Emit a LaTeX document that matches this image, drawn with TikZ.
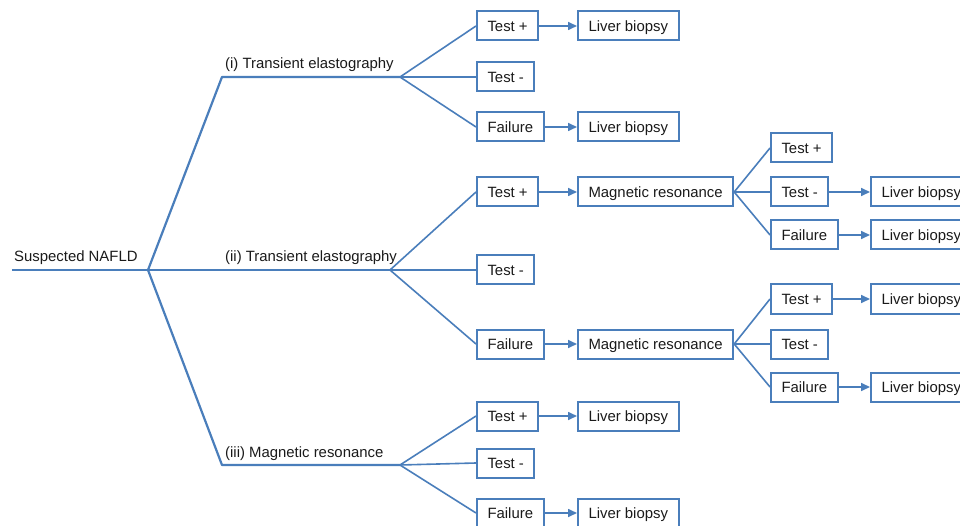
\documentclass[tikz,border=0pt]{standalone}
\usepackage{fontspec}
\setmainfont{Liberation Sans}
\usetikzlibrary{arrows.meta}
\definecolor{ln}{HTML}{4A7EBB}
\definecolor{tx}{HTML}{1A1A1A}
\begin{document}
\begin{tikzpicture}[x=1pt,y=-1pt,
  box/.style={draw=ln,line width=2pt,inner xsep=10.5pt,inner ysep=0pt,minimum height=29pt,
    text height=10.7pt,text depth=0pt,
    font=\fontsize{14.9}{16}\selectfont,text=tx,anchor=west},
  lbl/.style={font=\fontsize{14.9}{16}\selectfont,text=tx,anchor=base west,inner sep=0pt},
  trunk/.style={draw=ln,line width=2.2pt,line join=round},
  fan/.style={draw=ln,line width=1.6pt},
  arr/.style={draw=ln,line width=1.6pt,-{Triangle[length=9pt,width=8pt]}}]
\clip (0,0) rectangle (960,526);
% trunk coordinates
\coordinate (root) at (12,270);
\coordinate (j0) at (148,270);
\coordinate (k1) at (222,77);
\coordinate (f1) at (400,77);
\coordinate (f2) at (390,270);
\coordinate (k3) at (222,465);
\coordinate (f3) at (400,465);
% labels
\node[lbl] (t0) at (14,262) {Suspected NAFLD};
\node[lbl] (t1) at (225,69) {(i) Transient elastography};
\node[lbl] (t2) at (225,262) {(ii) Transient elastography};
\node[lbl] (t3) at (225,457) {(iii) Magnetic resonance};
% branch (i)
\node[box] (b1p) at (476,26) {Test +};
\node[box] (b1m) at (476,77) {Test -};
\node[box] (b1f) at (476,127) {Failure};
\node[box] (l1p) at (577,26) {Liver biopsy};
\node[box] (l1f) at (577,127) {Liver biopsy};
% branch (ii)
\node[box] (b2p) at (476,192) {Test +};
\node[box] (b2m) at (476,270) {Test -};
\node[box] (b2f) at (476,344) {Failure};
\node[box] (m2p) at (577,192) {Magnetic resonance};
\node[box] (m2f) at (577,344) {Magnetic resonance};
\node[box] (c2p) at (770,148) {Test +};
\node[box] (c2m) at (770,192) {Test -};
\node[box] (c2f) at (770,235) {Failure};
\node[box] (l2m) at (870,192) {Liver biopsy};
\node[box] (l2f) at (870,235) {Liver biopsy};
\node[box] (d2p) at (770,299) {Test +};
\node[box] (d2m) at (770,344) {Test -};
\node[box] (d2f) at (770,387) {Failure};
\node[box] (l2dp) at (870,299) {Liver biopsy};
\node[box] (l2df) at (870,387) {Liver biopsy};
% branch (iii)
\node[box] (b3p) at (476,416) {Test +};
\node[box] (b3m) at (476,463) {Test -};
\node[box] (b3f) at (476,513) {Failure};
\node[box] (l3p) at (577,416) {Liver biopsy};
\node[box] (l3f) at (577,513) {Liver biopsy};
% trunks
\draw[trunk] (root) -- (f2);
\draw[trunk] (j0) -- (k1) -- (f1);
\draw[trunk] (j0) -- (k3) -- (f3);
% fans
\draw[fan] (f1) -- (b1p.west);
\draw[fan] (f1) -- (b1m.west);
\draw[fan] (f1) -- (b1f.west);
\draw[fan] (f2) -- (b2p.west);
\draw[fan] (f2) -- (b2m.west);
\draw[fan] (f2) -- (b2f.west);
\draw[fan] (f3) -- (b3p.west);
\draw[fan] (f3) -- (b3m.west);
\draw[fan] (f3) -- (b3f.west);
\draw[fan] (m2p.east) -- (c2p.west);
\draw[fan] (m2p.east) -- (c2m.west);
\draw[fan] (m2p.east) -- (c2f.west);
\draw[fan] (m2f.east) -- (d2p.west);
\draw[fan] (m2f.east) -- (d2m.west);
\draw[fan] (m2f.east) -- (d2f.west);
% arrows
\draw[arr] (b1p.east) -- (l1p.west);
\draw[arr] (b1f.east) -- (l1f.west);
\draw[arr] (b2p.east) -- (m2p.west);
\draw[arr] (b2f.east) -- (m2f.west);
\draw[arr] (c2m.east) -- (l2m.west);
\draw[arr] (c2f.east) -- (l2f.west);
\draw[arr] (d2p.east) -- (l2dp.west);
\draw[arr] (d2f.east) -- (l2df.west);
\draw[arr] (b3p.east) -- (l3p.west);
\draw[arr] (b3f.east) -- (l3f.west);
\end{tikzpicture}
\end{document}
